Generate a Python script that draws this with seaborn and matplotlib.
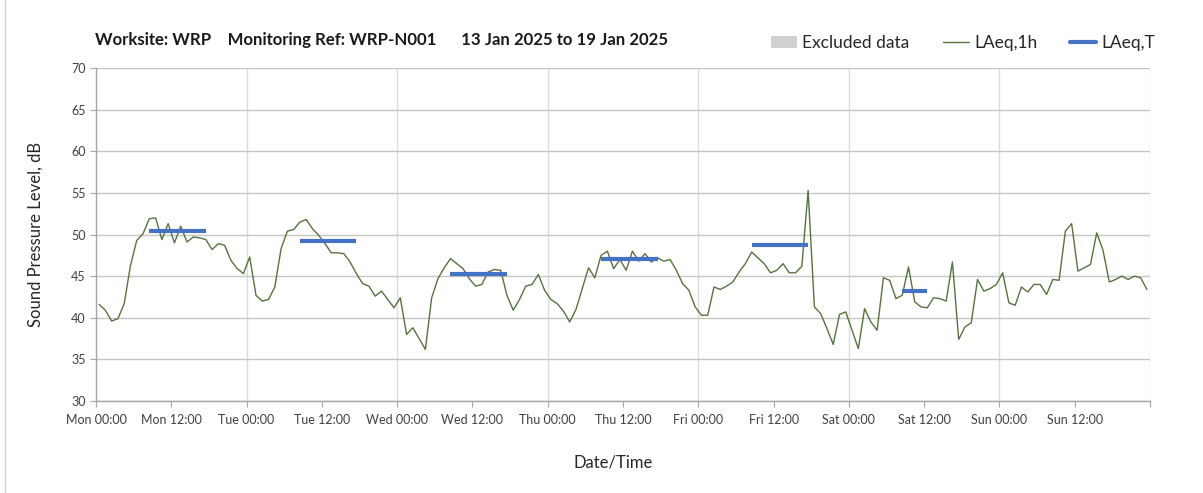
import pandas as pd
import numpy as np
import matplotlib.pyplot as plt
import matplotlib.dates as mdates
from matplotlib.patches import Patch
from matplotlib.lines import Line2D
import seaborn as sns

#Hourly LAeq,1h values, Mon 13 Jan 00:00 -> Sun 19 Jan 24:00
mon = [41.6, 40.9, 39.6, 39.9, 41.7, 46.3, 49.3, 50.1, 51.9, 52.0, 49.4, 51.3,
       49.0, 51.0, 49.1, 49.7, 49.6, 49.4, 48.2, 48.9, 48.7, 46.9, 45.9, 45.3]
tue = [47.3, 42.7, 42.0, 42.2, 43.7, 48.3, 50.4, 50.6, 51.5, 51.8, 50.7, 49.9,
       48.9, 47.8, 47.8, 47.7, 46.7, 45.3, 44.1, 43.8, 42.6, 43.2, 42.2, 41.2]
wed = [42.4, 38.0, 38.8, 37.5, 36.2, 42.4, 44.7, 46.0, 47.1, 46.5, 45.9, 44.7,
       43.8, 44.0, 45.5, 45.8, 45.7, 42.7, 40.9, 42.2, 43.8, 44.0, 45.2, 43.3]
thu = [42.2, 41.7, 40.8, 39.5, 41.0, 43.5, 46.0, 44.8, 47.5, 48.0, 45.9, 47.0,
       45.7, 48.0, 46.8, 47.7, 46.7, 47.2, 46.8, 47.0, 45.7, 44.1, 43.3, 41.3]
fri = [40.3, 40.3, 43.7, 43.4, 43.8, 44.3, 45.5, 46.5, 47.9, 47.2, 46.5, 45.4,
       45.7, 46.5, 45.4, 45.4, 46.2, 55.3, 41.3, 40.5, 38.7, 36.8, 40.4, 40.7]
sat = [38.5, 36.3, 41.1, 39.5, 38.5, 44.8, 44.5, 42.3, 42.7, 46.1, 41.9, 41.3,
       41.2, 42.4, 42.3, 42.0, 46.7, 37.4, 38.9, 39.4, 44.6, 43.2, 43.5, 44.0]
sun = [45.4, 41.8, 41.5, 43.7, 43.1, 44.0, 44.0, 42.8, 44.6, 44.5, 50.4, 51.3,
       45.6, 46.0, 46.4, 50.2, 48.1, 44.3, 44.6, 45.0, 44.6, 45.0, 44.8, 43.4]

#Daytime LAeq,T periods
period_start = ["2025-01-13 08:30", "2025-01-14 08:30", "2025-01-15 08:30",
                "2025-01-16 08:30", "2025-01-17 08:30", "2025-01-18 08:30"]
period_end = ["2025-01-13 17:30", "2025-01-14 17:30", "2025-01-15 17:30",
              "2025-01-16 17:30", "2025-01-17 17:30", "2025-01-18 12:30"]
laeq_t = [50.4, 49.2, 45.3, 47.1, 48.7, 43.2]

#Build data frames
hourly = pd.DataFrame({
    'time': pd.date_range("2025-01-13 00:30", periods=168, freq="h"),
    'laeq': mon + tue + wed + thu + fri + sat + sun,
})
bars = pd.DataFrame({
    'period': list(range(len(laeq_t))) * 2,
    'time': pd.to_datetime(period_start + period_end),
    'laeq': laeq_t * 2,
})

sns.set_style("white")
plt.rcParams['font.family'] = ['Lato', 'DejaVu Sans']

green = "#56733f"
blue = "#4472C4"

fig = plt.figure(figsize=(12.03, 4.93), dpi=100)
ax = fig.add_axes([0.0798, 0.1866, 0.8762, 0.6754])

sns.lineplot(data=hourly, x='time', y='laeq', color=green, lw=1, ax=ax)
sns.lineplot(data=bars, x='time', y='laeq', units='period', estimator=None,
             color=blue, lw=3, solid_capstyle='butt', ax=ax)

ax.set_xlim(pd.Timestamp("2025-01-13 00:00"), pd.Timestamp("2025-01-20 00:00"))
ax.set_ylim(30, 70)
ax.set_yticks(np.arange(30, 71, 5))

#Day gridlines with labels at 00:00, labels also at 12:00
ax.xaxis.set_major_locator(mdates.HourLocator(byhour=[0]))
ax.xaxis.set_minor_locator(mdates.HourLocator(byhour=[12]))
fmt = mdates.DateFormatter("%a %H:%M")
ax.xaxis.set_major_formatter(fmt)
ax.xaxis.set_minor_formatter(fmt)
ax.tick_params(axis='x', which='both', direction='out', length=4, width=0.8,
               color='#a6a6a6', labelsize=9, colors='#404040', pad=5, bottom=True)
ax.tick_params(axis='y', direction='out', length=4, width=0.8, color='#a6a6a6',
               labelsize=9, colors='#404040', left=True)
ax.grid(axis='y', color='#c6c6c6', lw=1)
ax.grid(axis='x', which='major', color='#dcdcdc', lw=1)

#no label at the closing Mon 00:00
fig.canvas.draw()
ax.get_xticklabels()[-1].set_visible(False)

for s in ['top', 'right']:
    ax.spines[s].set_visible(False)
for s in ['left', 'bottom']:
    ax.spines[s].set_color('#a6a6a6')
    ax.spines[s].set_linewidth(1)

ax.set_ylabel("Sound Pressure Level, dB", fontsize=12, color='#262626')
ax.set_xlabel("Date/Time", fontsize=12, color='#262626')
ax.yaxis.set_label_coords(-0.050, 0.5)
ax.xaxis.set_label_coords(0.491, -0.16)

fig.text(0.079, 0.919, "Worksite: WRP    Monitoring Ref: WRP-N001      13 Jan 2025 to 19 Jan 2025",
         fontsize=12.1, fontweight='bold', va='center', ha='left', color='#1a1a1a')

handles = [Patch(facecolor='#d0d0d0', edgecolor='none'),
           Line2D([], [], color=green, lw=1),
           Line2D([], [], color=blue, lw=3)]
fig.legend(handles, ["Excluded data", "LAeq,1h", "LAeq,T"], ncol=3, frameon=False,
           loc='center right', bbox_to_anchor=(0.966, 0.912), fontsize=12.5,
           handlelength=1.5, handleheight=0.7, columnspacing=1.9, handletextpad=0.3,
           borderaxespad=0)

fig.add_artist(Line2D([5 / 1203, 5 / 1203], [0, 1], color='#d0d0d0', lw=1,
                      transform=fig.transFigure))

fig.savefig("out.png", dpi=100)
